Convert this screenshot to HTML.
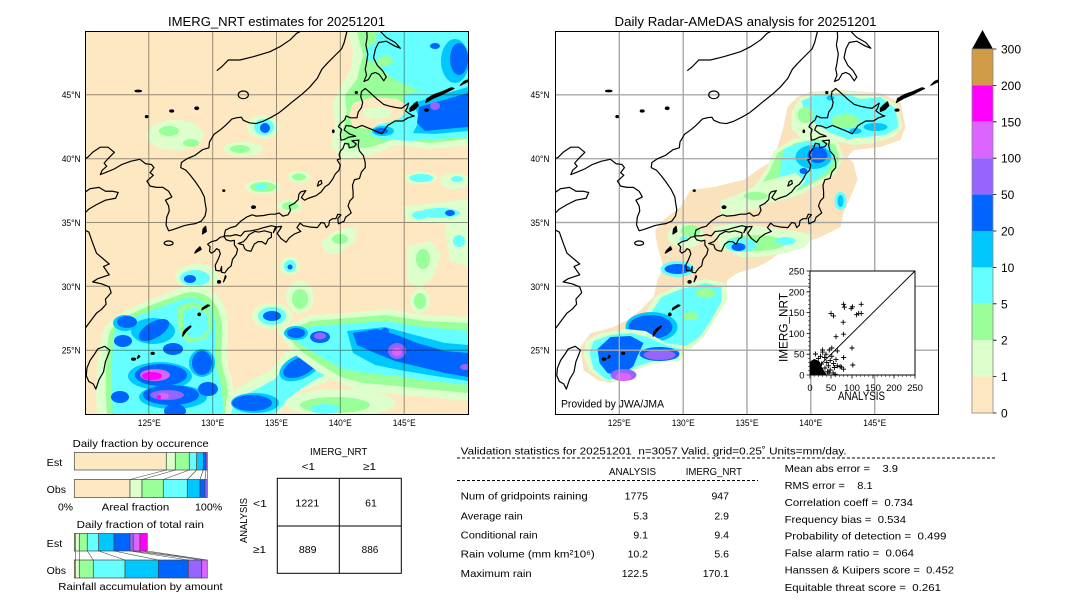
<!DOCTYPE html>
<html><head><meta charset="utf-8"><style>
html,body{margin:0;padding:0;background:#fff}
svg{display:block}
text{font-family:"Liberation Sans","DejaVu Sans",sans-serif;fill:#000}
.a{fill:#DCFFCC}.b{fill:#99FF99}.c{fill:#66FFFF}.d{fill:#00C8FF}.e{fill:#0064FF}.f{fill:#9664FF}.g{fill:#DC64FF}.h{fill:#FF00FF}
.st{font-size:10.5px;white-space:pre}
</style></head><body>
<svg width="1080" height="612" viewBox="0 0 1080 612" xmlns="http://www.w3.org/2000/svg">
<defs>
<g id="coast" fill="none" stroke="#000" stroke-width="1.2" stroke-linejoin="round">
<path vector-effect="non-scaling-stroke" d="M130.9,33.95 L131.0,34.4 131.4,34.6 131.8,34.7 132.2,35.1 132.7,35.45 133.1,35.6 133.4,35.5 134.0,35.55 134.5,35.65 134.9,35.65 135.2,35.75 135.5,35.5 135.9,35.6 136.1,35.95 136.0,36.3 136.4,36.5 136.7,36.8 136.75,37.2 136.9,37.4 137.3,37.5 137.1,37.2 136.95,36.95 137.2,36.75 137.5,36.9 138.1,37.1 138.5,37.4 138.8,37.8 139.1,38.0 139.4,38.4 139.6,38.8 139.9,39.1 140.0,39.5 139.75,39.9 140.0,40.0 139.9,40.3 140.0,40.6 140.2,40.8 140.35,41.2 140.65,41.15 140.7,40.85 141.1,40.95 141.25,41.15 140.9,41.4 141.45,41.45 141.4,41.0 141.5,40.6 141.8,40.25 141.95,39.7 141.95,39.3 141.65,38.95 141.5,38.45 141.1,38.35 140.95,37.9 141.0,37.4 141.0,36.95 140.75,36.7 140.6,36.3 140.85,35.75 140.4,35.4 140.3,35.1 139.85,34.9 139.8,35.3 140.05,35.6 139.8,35.65 139.65,35.3 139.4,35.3 139.15,35.15 139.1,34.8 138.9,34.6 138.75,34.95 138.5,35.0 138.2,34.6 137.6,34.65 137.1,34.75 136.85,34.95 136.6,34.6 136.9,34.3 136.4,34.1 136.0,33.8 135.75,33.45 135.35,33.75 135.05,34.15 135.3,34.5 135.4,34.7 135.0,34.65 134.6,34.75 134.0,34.6 133.5,34.45 133.0,34.35 132.5,34.3 132.2,33.95 131.8,34.05 131.4,33.95 130.9,33.95 Z"/>
<path vector-effect="non-scaling-stroke" d="M140.05,41.45 L140.0,41.9 140.1,42.3 139.85,42.5 139.95,42.7 140.35,43.05 140.45,43.35 140.8,43.2 141.3,43.2 141.4,43.65 141.65,44.0 141.75,44.4 141.6,44.85 141.65,45.25 141.95,45.5 142.3,45.2 142.9,44.65 143.4,44.25 143.9,44.1 144.4,44.0 144.8,43.95 145.15,44.2 145.35,44.35 145.25,44.0 145.1,43.75 145.3,43.6 145.6,43.4 145.8,43.35 145.3,43.2 144.9,42.95 144.3,42.95 143.7,42.6 143.35,42.1 143.25,41.95 142.8,42.15 142.2,42.4 141.7,42.6 141.2,42.4 140.85,42.55 140.45,42.6 140.3,42.25 140.7,41.95 141.1,41.8 141.2,41.75 140.7,41.7 140.3,41.5 140.05,41.45 Z"/>
<path vector-effect="non-scaling-stroke" d="M132.0,33.35 L132.4,33.5 132.65,33.75 132.85,34.05 133.3,34.3 133.6,34.25 134.05,34.35 134.6,34.2 134.6,33.85 134.35,33.7 134.15,33.3 133.85,33.5 133.55,33.5 133.25,33.3 133.0,32.75 132.7,32.8 132.5,32.95 132.4,33.25 132.0,33.35 Z"/>
<path vector-effect="non-scaling-stroke" d="M130.9,33.9 L131.05,33.65 131.4,33.55 131.7,33.6 131.7,33.25 131.95,32.9 131.85,32.5 131.55,32.1 131.45,31.6 131.2,31.4 130.95,31.05 130.7,31.1 130.7,31.55 130.6,31.2 130.25,31.25 130.2,31.65 130.4,32.05 130.6,32.55 130.5,32.85 130.3,32.95 130.15,32.75 129.9,32.6 129.75,32.75 129.8,33.1 129.6,33.3 129.9,33.5 130.3,33.6 130.6,33.85 130.9,33.9 Z"/>
<path vector-effect="non-scaling-stroke" d="M124.3,39.95 L124.75,39.6 125.2,39.55 125.4,39.3 125.1,38.9 125.35,38.7 124.85,38.25 125.1,37.85 125.6,37.75 126.1,37.75 126.55,37.45 126.8,37.0 126.3,36.75 126.55,36.3 126.6,35.9 126.4,35.4 126.35,34.8 126.55,34.35 126.9,34.45 127.35,34.6 127.75,34.75 128.2,34.85 128.6,34.9 129.1,35.1 129.4,35.5 129.5,36.0 129.4,36.6 129.35,37.0 129.05,37.6 128.6,38.25 128.25,38.7 127.9,39.1 127.5,39.3 127.55,39.7 128.0,40.0 128.6,40.25 129.2,40.7 129.7,40.85 129.75,41.3 130.1,41.9 130.65,42.3 131.0,42.6 131.25,42.85 131.5,43.1 131.85,43.2 132.25,43.25 132.4,43.0 132.9,42.8 133.4,42.75 134.0,42.95 134.6,43.25 135.2,43.6 135.7,44.0 136.3,44.5 137.0,45.05 137.6,45.6 138.2,46.3 138.55,47.0 139.0,47.5 139.6,48.1 140.1,48.6 140.3,49.1 140.45,49.7 140.6,50.3"/>
<path vector-effect="non-scaling-stroke" d="M124.3,39.95 L123.6,39.8 122.9,39.55 122.3,39.2 121.7,38.95 121.2,38.75 121.35,39.1 121.7,39.4 121.5,39.65 121.9,40.1 122.3,40.5 121.8,40.9 121.2,40.9 120.6,40.5 120.2,40.1 119.5,39.8"/>
<path vector-effect="non-scaling-stroke" d="M119.0,37.2 L119.9,37.3 120.4,37.65 121.1,37.75 121.6,37.45 122.15,37.45 122.6,37.35 122.4,36.9 121.6,36.75 120.9,36.4 120.3,36.05 119.9,35.65 119.5,35.2 119.3,34.75 120.3,34.25 120.6,33.4 120.9,32.6 121.9,31.75 121.45,31.55 121.9,30.9 121.0,30.6 120.6,30.35 121.3,30.2 121.9,29.95 122.05,29.5 121.6,29.0 121.65,28.6 121.3,28.2 120.9,27.9 120.6,27.5 120.3,27.1 120.0,26.7 119.6,26.3"/>
<path vector-effect="non-scaling-stroke" d="M121.0,25.1 L121.55,25.3 121.95,25.0 121.8,24.6 121.6,24.1 121.45,23.3 121.1,22.7 120.85,21.95 120.65,22.35 120.3,22.55 120.1,23.0 120.15,23.6 120.4,24.2 120.75,24.7 121.0,25.1 Z"/>
<path vector-effect="non-scaling-stroke" d="M142.05,50.3 L142.1,49.5 142.0,48.9 142.15,48.2 142.05,47.5 141.95,47.0 142.05,46.55 141.85,46.05 142.2,46.2 142.45,46.65 142.75,46.75 143.05,46.6 143.4,46.1 143.6,46.4 143.3,46.9 142.9,47.3 142.6,47.9 142.75,48.6 143.0,49.1 143.6,49.2 144.3,48.8 144.7,48.65 144.3,49.1 143.6,49.5 143.2,49.9 143.3,50.3"/>
<path vector-effect="non-scaling-stroke" d="M130.32,46.89 L130.71,47.2 131.23,47.73 132.14,47.73 133.18,47.99 134.49,48.38 135.27,48.77 136.06,49.3 136.58,49.82 136.84,49.95 137.2,50.3"/>
<ellipse vector-effect="non-scaling-stroke" cx="132.4" cy="45.0" rx="0.4" ry="0.3"/>
<ellipse vector-effect="non-scaling-stroke" cx="126.55" cy="33.38" rx="0.35" ry="0.17"/>
<path vector-effect="non-scaling-stroke" d="M138.2,37.85 L138.55,38.05 138.5,38.3 138.3,38.2 Z"/>
<g fill="#000">
<path vector-effect="non-scaling-stroke" d="M145.45,43.7 L145.8,43.85 146.1,44.15 146.0,44.45 145.7,44.2 145.45,43.95 Z"/>
<path vector-effect="non-scaling-stroke" d="M146.7,44.4 L147.3,44.75 147.9,45.0 148.5,45.3 148.9,45.5 148.7,45.55 148.0,45.25 147.3,45.0 146.8,44.7 Z"/>
<path vector-effect="non-scaling-stroke" d="M149.4,45.75 L150.0,46.05 150.5,46.2 150.3,46.3 149.7,46.05 Z"/>
<ellipse vector-effect="non-scaling-stroke" cx="146.75" cy="43.8" rx="0.15" ry="0.08"/>
<ellipse vector-effect="non-scaling-stroke" cx="133.2" cy="36.2" rx="0.15" ry="0.1"/>
<path vector-effect="non-scaling-stroke" d="M129.2,34.1 L129.5,34.3 129.45,34.7 129.25,34.5 Z"/>
<path vector-effect="non-scaling-stroke" d="M128.6,32.6 L129.1,32.9 129.0,33.1 128.7,32.8 Z"/>
<ellipse vector-effect="non-scaling-stroke" cx="130.5" cy="30.35" rx="0.12" ry="0.1"/>
<path vector-effect="non-scaling-stroke" d="M130.85,30.35 L131.05,30.75 131.0,30.85 130.9,30.5 Z"/>
<path vector-effect="non-scaling-stroke" d="M129.15,28.15 L129.75,28.5 129.6,28.55 129.2,28.3 Z"/>
<ellipse vector-effect="non-scaling-stroke" cx="128.95" cy="27.8" rx="0.1" ry="0.1"/>
<path vector-effect="non-scaling-stroke" d="M127.65,26.1 L127.9,26.45 128.3,26.85 128.25,26.9 127.9,26.65 127.7,26.4 Z"/>
<ellipse vector-effect="non-scaling-stroke" cx="125.3" cy="24.75" rx="0.12" ry="0.08"/>
<path vector-effect="non-scaling-stroke" d="M124.1,24.35 L124.3,24.5 124.2,24.6 Z"/>
<ellipse vector-effect="non-scaling-stroke" cx="123.8" cy="24.3" rx="0.15" ry="0.08"/>
<ellipse vector-effect="non-scaling-stroke" cx="130.87" cy="37.5" rx="0.08" ry="0.06"/>
<ellipse vector-effect="non-scaling-stroke" cx="141.25" cy="45.18" rx="0.08" ry="0.08"/>
<ellipse vector-effect="non-scaling-stroke" cx="139.45" cy="42.15" rx="0.06" ry="0.1"/>
<path vector-effect="non-scaling-stroke" d="M134.75,34.2 L135.0,34.6 134.9,34.6 Z"/>
<ellipse vector-effect="non-scaling-stroke" cx="124.17" cy="45.3" rx="0.25" ry="0.06"/>
<ellipse vector-effect="non-scaling-stroke" cx="128.75" cy="43.95" rx="0.15" ry="0.1"/>
<ellipse vector-effect="non-scaling-stroke" cx="124.83" cy="43.29" rx="0.1" ry="0.08"/>
<ellipse vector-effect="non-scaling-stroke" cx="126.79" cy="43.73" rx="0.15" ry="0.08"/>
</g>
</g>
</defs>

<rect width="1080" height="612" fill="#fff"/>

<text x="276.5" y="26" text-anchor="middle" font-size="13" textLength="217" lengthAdjust="spacingAndGlyphs">IMERG_NRT estimates for 20251201</text>
<text x="745.5" y="26" text-anchor="middle" font-size="13" textLength="262" lengthAdjust="spacingAndGlyphs">Daily Radar-AMeDAS analysis for 20251201</text>

<!-- LEFT MAP -->
<svg x="85" y="31" width="383" height="383" viewBox="0 0 383 383" overflow="hidden">
<rect width="383" height="383" fill="#FEE8C1"/>
<path class="a" d="M262,0 L383,0 L383,114 L345,118 L312,114 L285,124 L258,128 L246,114 L250,95 L248,72 L256,55 L266,38 L268,18 Z"/>
<path class="b" d="M272,0 L383,0 L383,108 L345,112 L310,108 L286,116 L264,118 L256,104 L262,84 L260,64 L272,48 L278,24 Z"/>
<path fill="#FEE8C1" d="M268,72 L290,66 L312,68 L322,74 L318,86 L300,92 L284,98 L268,96 L264,84 Z"/>
<ellipse class="a" cx="292" cy="82" rx="14" ry="6"/>
<path class="c" d="M292,0 L383,0 L383,56 L352,60 L330,58 L312,50 L298,40 L290,22 Z"/>
<ellipse class="c" cx="295" cy="22" rx="15" ry="10"/>
<path class="c" d="M318,64 L383,48 L383,106 L352,108 L325,110 L298,108 L284,104 L292,94 L312,90 L322,80 Z"/>
<ellipse class="d" cx="370" cy="30" rx="14" ry="22"/>
<path class="d" d="M328,72 L383,56 L383,100 L350,103 L328,102 L335,88 Z"/>
<ellipse class="e" cx="374" cy="28" rx="9" ry="16"/>
<path class="e" d="M334,76 L383,62 L383,96 L360,98 L340,100 L332,92 Z"/>
<ellipse class="e" cx="350" cy="15" rx="5" ry="3"/>
<ellipse class="d" cx="298" cy="100" rx="11" ry="5"/>
<ellipse class="e" cx="296" cy="100" rx="7" ry="3"/>
<ellipse class="f" cx="350" cy="75" rx="5" ry="4"/>
<ellipse class="b" cx="300" cy="30" rx="8" ry="5"/>
<ellipse class="a" cx="90" cy="104" rx="28" ry="15"/>
<ellipse class="b" cx="84" cy="100" rx="10" ry="5"/>
<ellipse class="b" cx="106" cy="112" rx="8" ry="4"/>
<ellipse class="a" cx="178" cy="96" rx="16" ry="12"/>
<ellipse class="c" cx="179" cy="96" rx="10" ry="8"/>
<ellipse class="e" cx="180" cy="97" rx="5" ry="5"/>
<ellipse class="a" cx="158" cy="118" rx="20" ry="7"/>
<ellipse class="b" cx="155" cy="118" rx="10" ry="4"/>
<ellipse class="a" cx="178" cy="156" rx="18" ry="7"/>
<ellipse class="b" cx="178" cy="156" rx="13" ry="5"/>
<ellipse class="c" cx="176" cy="156" rx="6" ry="3"/>
<ellipse class="a" cx="205" cy="175" rx="12" ry="6"/>
<ellipse class="b" cx="205" cy="175" rx="8" ry="4"/>
<ellipse class="a" cx="214" cy="146" rx="11" ry="6"/>
<ellipse class="b" cx="214" cy="146" rx="7" ry="3.5"/>
<path class="a" d="M236,210 L255,198 L272,196 L270,210 L255,222 L240,222 Z"/>
<ellipse class="b" cx="255" cy="208" rx="8" ry="5"/>
<path class="a" d="M322,215 L345,210 L356,222 L348,245 L335,258 L322,250 Z"/>
<ellipse class="b" cx="338" cy="228" rx="7" ry="10"/>
<path class="a" d="M318,176 L383,168 L383,195 L345,192 L322,190 Z"/>
<ellipse class="c" cx="355" cy="182" rx="20" ry="5"/>
<ellipse class="c" cx="335" cy="184" rx="8" ry="4"/>
<ellipse class="e" cx="365" cy="182" rx="5" ry="3"/>
<ellipse class="a" cx="336" cy="147" rx="16" ry="6"/>
<ellipse class="c" cx="336" cy="147" rx="12" ry="4"/>
<ellipse class="a" cx="370" cy="150" rx="15" ry="8"/>
<ellipse class="c" cx="372" cy="148" rx="6" ry="3"/>
<path class="a" d="M360,195 L383,190 L383,235 L365,230 Z"/>
<ellipse class="c" cx="374" cy="210" rx="6" ry="6"/>
<ellipse class="a" cx="205" cy="235" rx="10" ry="9"/>
<ellipse class="c" cx="205" cy="235" rx="6" ry="6"/>
<ellipse class="e" cx="205" cy="236" rx="2.5" ry="2.5"/>
<ellipse class="a" cx="112" cy="246" rx="22" ry="13"/>
<ellipse class="c" cx="110" cy="247" rx="15" ry="8"/>
<ellipse class="e" cx="105" cy="248" rx="6" ry="4"/>
<ellipse class="a" cx="97" cy="270" rx="9" ry="11"/>
<ellipse class="c" cx="97" cy="270" rx="6" ry="8"/>
<!-- lower-left complex -->
<path class="a" d="M18,300 C30,278 70,268 100,255 C120,250 138,262 142,285 C146,305 138,325 146,345 C150,360 150,375 150,383 L12,383 C10,360 12,320 18,300 Z"/>
<path class="b" d="M25,300 C38,282 72,272 100,262 C118,258 132,268 136,288 C140,305 132,325 140,345 C144,360 144,375 144,383 L22,383 C20,360 20,320 25,300 Z"/>
<path class="c" d="M30,300 C42,286 72,278 98,268 C114,264 126,274 130,290 C133,306 126,326 134,346 C138,360 138,375 138,383 L28,383 C26,360 26,320 30,300 Z"/>
<path class="b" d="M92,276 L108,270 L124,278 L128,296 L120,308 L104,312 L94,300 Z"/>
<path class="c" d="M98,280 L110,276 L122,284 L124,298 L116,306 L104,306 L98,296 Z"/>
<ellipse class="d" cx="68" cy="300" rx="22" ry="13"/>
<ellipse class="d" cx="75" cy="345" rx="32" ry="14"/>
<ellipse class="d" cx="88" cy="366" rx="34" ry="12"/>
<ellipse class="d" cx="117" cy="332" rx="13" ry="14"/>
<ellipse class="d" cx="40" cy="292" rx="12" ry="8"/>
<ellipse class="e" cx="42" cy="291" rx="10" ry="6"/>
<ellipse class="e" cx="69" cy="299" rx="17" ry="8" transform="rotate(-30 69 299)"/>
<ellipse class="e" cx="38" cy="310" rx="9" ry="6"/>
<ellipse class="e" cx="88" cy="318" rx="10" ry="6"/>
<ellipse class="e" cx="76" cy="344" rx="26" ry="11"/>
<ellipse class="e" cx="117" cy="332" rx="10" ry="12"/>
<ellipse class="e" cx="86" cy="364" rx="28" ry="10"/>
<ellipse class="e" cx="35" cy="366" rx="9" ry="6"/>
<ellipse class="e" cx="90" cy="380" rx="11" ry="7"/>
<ellipse class="e" cx="123" cy="358" rx="10" ry="7"/>
<ellipse class="g" cx="70" cy="344" rx="15" ry="6"/>
<ellipse class="h" cx="67" cy="345" rx="10" ry="4"/>
<ellipse class="f" cx="82" cy="364" rx="17" ry="5"/>
<ellipse class="g" cx="78" cy="365" rx="6" ry="3"/>
<ellipse class="h" cx="74" cy="366" rx="2" ry="2"/>
<!-- middle band -->
<path class="a" d="M140,383 L142,365 L165,350 L185,340 L200,322 L225,310 L250,312 L255,335 L240,352 L215,360 L200,375 L195,383 Z"/>
<path class="c" d="M146,383 L150,368 L172,358 L190,348 L204,330 L226,318 L246,320 L248,340 L228,350 L210,362 L196,376 L190,383 Z"/>
<ellipse class="d" cx="170" cy="372" rx="24" ry="10"/>
<ellipse class="e" cx="167" cy="372" rx="20" ry="8"/>
<ellipse class="d" cx="215" cy="336" rx="22" ry="12" transform="rotate(-25 215 336)"/>
<ellipse class="e" cx="215" cy="336" rx="18" ry="9" transform="rotate(-25 215 336)"/>
<!-- right band -->
<path class="a" d="M192,300 L225,284 L262,282 L300,278 L340,284 L383,286 L383,370 L340,366 L300,362 L275,360 L255,352 L232,340 L212,325 Z"/>
<path class="b" d="M198,302 L226,290 L262,287 L300,284 L340,290 L383,292 L383,362 L340,358 L302,354 L278,352 L256,346 L236,334 L216,320 Z"/>
<path class="c" d="M202,304 L228,295 L262,293 L300,290 L338,296 L383,300 L383,354 L345,350 L310,345 L282,342 L258,338 L240,328 L220,316 Z"/>
<path class="d" d="M262,300 L300,296 L330,304 L360,312 L383,314 L383,350 L350,345 L320,340 L290,334 L268,322 Z"/>
<path class="e" d="M268,302 L292,298 L312,304 L332,312 L360,320 L383,322 L383,346 L360,342 L335,336 L310,330 L290,322 L272,314 Z"/>
<ellipse class="d" cx="211" cy="302" rx="12" ry="7"/>
<ellipse class="e" cx="211" cy="302" rx="9" ry="5"/>
<ellipse class="e" cx="235" cy="306" rx="10" ry="6"/>
<ellipse class="f" cx="235" cy="305" rx="6" ry="3.5"/>
<ellipse class="f" cx="312" cy="320" rx="9" ry="8"/>
<ellipse class="g" cx="312" cy="321" rx="5" ry="4"/>
<ellipse class="f" cx="380" cy="336" rx="5" ry="3"/>
<ellipse class="e" cx="300" cy="300" rx="4" ry="3"/>
<ellipse class="a" cx="255" cy="372" rx="55" ry="14"/>
<ellipse class="b" cx="250" cy="374" rx="35" ry="8"/>
<ellipse class="c" cx="240" cy="378" rx="15" ry="5"/>
<ellipse class="a" cx="215" cy="266" rx="14" ry="16"/>
<ellipse class="b" cx="215" cy="268" rx="8" ry="10"/>
<ellipse class="a" cx="335" cy="270" rx="10" ry="12"/>
<ellipse class="b" cx="335" cy="270" rx="6" ry="8"/>
<ellipse class="a" cx="187" cy="285" rx="20" ry="13"/>
<ellipse class="c" cx="187" cy="285" rx="14" ry="9"/>
<ellipse class="e" cx="187" cy="285" rx="9" ry="5"/>
<g stroke="#000" stroke-opacity="0.4" stroke-width="1">
<path d="M63.8,0V383M127.7,0V383M191.5,0V383M255.3,0V383M319.2,0V383M0,63.8H383M0,127.7H383M0,191.5H383M0,255.3H383M0,319.2H383"/>
</g>
<use href="#coast" transform="matrix(12.767 0 0 -12.767 -1532.04 638.35)"/>
</svg>
<rect x="85.5" y="31.5" width="383" height="383" fill="none" stroke="#000" stroke-width="1"/>

<!-- RIGHT MAP -->
<svg x="555.5" y="31" width="383" height="383" viewBox="0 0 383 383" overflow="hidden">
<rect width="383" height="383" fill="#fff"/>
<path fill="#FAE2BC" d="M100,199 L108,189 L125,176 L135,159 L158,156 L188,149 L202,139 L218,129 L222,116 L228,96 L232,76 L242,66 L255,61 L282,59 L325,62 L345,72 L350,96 L345,109 L325,116 L298,119 L292,126 L298,132 L302,149 L295,166 L288,182 L285,196 L265,206 L248,212 L228,219 L215,229 L202,236 L182,242 L172,249 L170,262 L158,269 L148,276 L142,282 L138,309 L128,316 L122,326 L102,332 L82,336 L65,349 L55,352 L42,349 L28,339 L25,316 L35,302 L48,299 L58,296 L72,289 L85,279 L98,266 L102,249 L108,236 L103,219 L100,206 Z"/>
<path class="a" d="M236,80 L244,68 L258,62 L285,60 L322,63 L342,74 L347,96 L338,106 L318,112 L298,114 L280,110 L262,104 L246,108 L236,98 Z"/>
<path class="c" d="M246,70 L262,63 L288,62 L305,68 L325,66 L340,78 L343,96 L330,104 L310,106 L292,108 L275,102 L262,94 L250,86 Z"/>
<ellipse class="b" cx="290" cy="90" rx="14" ry="7"/>
<ellipse class="b" cx="250" cy="84" rx="8" ry="8"/>
<ellipse class="d" cx="320" cy="96" rx="12" ry="4"/>
<ellipse class="d" cx="300" cy="100" rx="6" ry="3"/>
<ellipse class="d" cx="275" cy="67" rx="4" ry="2.5"/>
<path class="a" d="M218,120 L238,108 L262,104 L282,110 L288,126 L280,142 L266,152 L248,162 L232,168 L212,172 L196,180 L186,172 L198,156 L210,140 Z"/>
<path class="b" d="M222,122 L240,112 L262,108 L280,114 L284,128 L276,142 L262,150 L246,158 L230,164 L214,168 L200,174 L194,168 L204,156 L214,140 Z"/>
<path class="c" d="M228,118 L250,110 L272,112 L280,126 L272,140 L258,150 L242,158 L230,158 L224,146 L226,132 Z"/>
<ellipse class="d" cx="258" cy="126" rx="18" ry="12"/>
<ellipse class="e" cx="262" cy="124" rx="10" ry="8"/>
<ellipse class="e" cx="248" cy="140" rx="4" ry="3"/>
<path class="a" d="M165,170 L190,160 L210,150 L240,142 L250,150 L235,165 L210,172 L185,182 L165,186 Z"/>
<ellipse class="b" cx="200" cy="165" rx="12" ry="4"/>
<path class="a" d="M158,196 L180,192 L210,196 L240,200 L258,204 L250,216 L230,222 L205,226 L185,226 L165,216 Z"/>
<ellipse class="b" cx="200" cy="212" rx="30" ry="8"/>
<ellipse class="c" cx="185" cy="214" rx="16" ry="7"/>
<ellipse class="c" cx="230" cy="210" rx="10" ry="4"/>
<ellipse class="e" cx="183" cy="216" rx="7" ry="4"/>
<ellipse class="a" cx="130" cy="205" rx="18" ry="12"/>
<ellipse class="b" cx="135" cy="200" rx="10" ry="6"/>
<ellipse class="c" cx="128" cy="208" rx="4" ry="3"/>
<ellipse class="c" cx="285" cy="170" rx="6" ry="9"/>
<ellipse class="d" cx="285" cy="170" rx="3" ry="6"/>
<ellipse class="c" cx="122" cy="238" rx="17" ry="8"/>
<ellipse class="e" cx="122" cy="238" rx="13" ry="5"/>
<path class="a" d="M88,285 L100,265 L122,255 L150,248 L170,252 L172,268 L160,288 L148,306 L135,318 L110,322 L90,310 Z"/>
<path class="c" d="M94,284 L106,266 L126,258 L150,252 L166,256 L166,270 L155,290 L144,306 L130,315 L110,318 L94,306 Z"/>
<ellipse class="b" cx="150" cy="262" rx="10" ry="5"/>
<ellipse class="b" cx="135" cy="285" rx="8" ry="4"/>
<ellipse class="d" cx="96" cy="296" rx="26" ry="15"/>
<ellipse class="e" cx="95" cy="296" rx="22" ry="12"/>
<path class="a" d="M28,325 L30,310 L45,302 L70,298 L90,300 L110,312 L130,315 L125,330 L100,332 L82,338 L66,350 L50,350 L34,340 Z"/>
<path class="c" d="M34,322 L38,310 L55,304 L75,302 L92,306 L110,314 L125,318 L122,328 L98,330 L80,336 L64,348 L50,348 L38,338 Z"/>
<path class="e" d="M42,318 L55,306 L75,305 L88,312 L82,325 L78,335 L65,345 L52,342 L44,332 Z"/>
<ellipse class="e" cx="104" cy="323" rx="20" ry="7"/>
<ellipse class="f" cx="104" cy="324" rx="16" ry="5"/>
<ellipse class="f" cx="68" cy="344" rx="13" ry="6"/>
<ellipse class="g" cx="68" cy="346" rx="8" ry="4"/>
<g stroke="#a8a8a8" stroke-width="1.4">
<path d="M63.8,0V383M127.7,0V383M191.5,0V383M255.3,0V383M319.2,0V383M0,63.8H383M0,127.7H383M0,191.5H383M0,255.3H383M0,319.2H383"/>
</g>
<use href="#coast" transform="matrix(12.767 0 0 -12.767 -1532.04 638.35)"/>
</svg>
<rect x="555.5" y="31.5" width="383" height="383" fill="none" stroke="#000" stroke-width="1"/>
<text x="561" y="407.5" font-size="11" textLength="103" lengthAdjust="spacingAndGlyphs">Provided by JWA/JMA</text>

<g font-size="9">
<text x="80.7" y="98" text-anchor="end" textLength="19" lengthAdjust="spacingAndGlyphs">45°N</text>
<text x="80.7" y="162" text-anchor="end" textLength="19" lengthAdjust="spacingAndGlyphs">40°N</text>
<text x="80.7" y="226" text-anchor="end" textLength="19" lengthAdjust="spacingAndGlyphs">35°N</text>
<text x="80.7" y="290" text-anchor="end" textLength="19" lengthAdjust="spacingAndGlyphs">30°N</text>
<text x="80.7" y="353.5" text-anchor="end" textLength="19" lengthAdjust="spacingAndGlyphs">25°N</text>
<text x="549.5" y="98" text-anchor="end" textLength="19" lengthAdjust="spacingAndGlyphs">45°N</text>
<text x="549.5" y="162" text-anchor="end" textLength="19" lengthAdjust="spacingAndGlyphs">40°N</text>
<text x="549.5" y="226" text-anchor="end" textLength="19" lengthAdjust="spacingAndGlyphs">35°N</text>
<text x="549.5" y="290" text-anchor="end" textLength="19" lengthAdjust="spacingAndGlyphs">30°N</text>
<text x="549.5" y="353.5" text-anchor="end" textLength="19" lengthAdjust="spacingAndGlyphs">25°N</text>
<text x="149.3" y="426" text-anchor="middle" textLength="23" lengthAdjust="spacingAndGlyphs">125°E</text>
<text x="212.7" y="426" text-anchor="middle" textLength="23" lengthAdjust="spacingAndGlyphs">130°E</text>
<text x="276.5" y="426" text-anchor="middle" textLength="23" lengthAdjust="spacingAndGlyphs">135°E</text>
<text x="340.3" y="426" text-anchor="middle" textLength="23" lengthAdjust="spacingAndGlyphs">140°E</text>
<text x="404.2" y="426" text-anchor="middle" textLength="23" lengthAdjust="spacingAndGlyphs">145°E</text>
<text x="619.3" y="426" text-anchor="middle" textLength="23" lengthAdjust="spacingAndGlyphs">125°E</text>
<text x="683.2" y="426" text-anchor="middle" textLength="23" lengthAdjust="spacingAndGlyphs">130°E</text>
<text x="747" y="426" text-anchor="middle" textLength="23" lengthAdjust="spacingAndGlyphs">135°E</text>
<text x="810.8" y="426" text-anchor="middle" textLength="23" lengthAdjust="spacingAndGlyphs">140°E</text>
<text x="874.7" y="426" text-anchor="middle" textLength="23" lengthAdjust="spacingAndGlyphs">145°E</text>
</g>

<!-- scatter inset -->
<rect x="810" y="271" width="105" height="104" fill="#fff" stroke="#000" stroke-width="1"/>
<line x1="810" y1="375" x2="915" y2="271" stroke="#000" stroke-width="0.9"/>
<path stroke="#000" stroke-width="0.8" fill="none" d="M810,375v3.5M831,375v3.5M852,375v3.5M873,375v3.5M894,375v3.5M915,375v3.5M810,375h-3.5M810,354.2h-3.5M810,333.4h-3.5M810,312.6h-3.5M810,291.8h-3.5M810,271h-3.5"/>
<path stroke="#000" stroke-width="0.5" fill="none" d="M814.2,375v2M818.4,375v2M822.6,375v2M826.8,375v2M835.2,375v2M839.4,375v2M843.6,375v2M847.8,375v2M856.2,375v2M860.4,375v2M864.6,375v2M868.8,375v2M877.2,375v2M881.4,375v2M885.6,375v2M889.8,375v2M898.2,375v2M902.4,375v2M906.6,375v2M910.8,375v2M810,370.8h-2M810,366.7h-2M810,362.5h-2M810,358.4h-2M810,350h-2M810,345.9h-2M810,341.7h-2M810,337.6h-2M810,329.2h-2M810,325.1h-2M810,320.9h-2M810,316.8h-2M810,308.4h-2M810,304.3h-2M810,300.1h-2M810,296h-2M810,287.6h-2M810,283.5h-2M810,279.3h-2M810,275.2h-2"/>
<g font-size="9.5">
<text x="810" y="391" text-anchor="middle">0</text>
<text x="831" y="391" text-anchor="middle">50</text>
<text x="852" y="391" text-anchor="middle">100</text>
<text x="873" y="391" text-anchor="middle">150</text>
<text x="894" y="391" text-anchor="middle">200</text>
<text x="915" y="391" text-anchor="middle">250</text>
<text x="804.5" y="378.5" text-anchor="end">0</text>
<text x="804.5" y="357.7" text-anchor="end">50</text>
<text x="804.5" y="336.9" text-anchor="end">100</text>
<text x="804.5" y="316.1" text-anchor="end">150</text>
<text x="804.5" y="295.3" text-anchor="end">200</text>
<text x="804.5" y="274.5" text-anchor="end">250</text>
</g>
<text x="838" y="400" font-size="11.5" textLength="47" lengthAdjust="spacingAndGlyphs">ANALYSIS</text>
<text transform="translate(787.5,327.5) rotate(-90)" text-anchor="middle" font-size="12" textLength="69" lengthAdjust="spacingAndGlyphs">IMERG_NRT</text>
<path fill="#000" d="M810,375 L827,375 L825,372 L823,369 L821,366 L820,362 L817,360 L814,359 L811,361 L810,363 Z"/>
<path stroke="#000" stroke-width="0.9" fill="none" d="M828.5,313.4h5M831,310.9v5M831,315.9h5M833.5,313.4v5M841.1,304.3h5M843.6,301.8v5M841.9,307.2h5M844.4,304.7v5M848.7,308.4h5M851.2,305.9v5M849.9,306.8h5M852.4,304.3v5M858.7,304.3h5M861.2,301.8v5M854.1,314.7h5M856.6,312.2v5M856.2,313.4h5M858.7,310.9v5M858.7,313.4h5M861.2,310.9v5M840.7,322.2h5M843.2,319.7v5M841.1,334.2h5M843.6,331.7v5M833.5,336.7h5M836,334.2v5M829.3,348h5M831.8,345.5v5M849.5,348h5M852,345.5v5M826.8,350h5M829.3,347.5v5M834.8,350.9h5M837.3,348.4v5M833.5,359.6h5M836,357.1v5M841.1,357.5h5M843.6,355v5M829.3,356.3h5M831.8,353.8v5M834.8,365.8h5M837.3,363.3v5M837.7,366.7h5M840.2,364.2v5M831.9,367.5h5M834.4,365v5M841.1,369.2h5M843.6,366.7v5M850.3,365h5M852.8,362.5v5M839,367.1h5M841.5,364.6v5M827.7,360.4h5M830.2,357.9v5M831,363.4h5M833.5,360.9v5M826,365.8h5M828.5,363.3v5M823.5,354.2h5M826,351.7v5M820.1,352.1h5M822.6,349.6v5M822.2,357.5h5M824.7,355v5M825.1,371.7h5M827.6,369.2v5M830.6,372.9h5M833.1,370.4v5M832.7,374.2h5M835.2,371.7v5M827.7,370h5M830.2,367.5v5M824.3,362.5h5M826.8,360v5M818,356.3h5M820.5,353.8v5M815.9,358.4h5M818.4,355.9v5M813,354h5M815.5,351.5v5M820,350h5M822.5,347.5v5M822.5,368h5M825,365.5v5M819,364h5M821.5,361.5v5M826.5,373h5M829,370.5v5"/>

<!-- colorbar -->
<rect x="972" y="49" width="21" height="36.4" fill="#D29B48"/>
<rect x="972" y="85.4" width="21" height="36.4" fill="#FF00FF"/>
<rect x="972" y="121.8" width="21" height="36.4" fill="#DC64FF"/>
<rect x="972" y="158.2" width="21" height="36.4" fill="#9664FF"/>
<rect x="972" y="194.6" width="21" height="36.4" fill="#0064FF"/>
<rect x="972" y="231" width="21" height="36.4" fill="#00C8FF"/>
<rect x="972" y="267.4" width="21" height="36.4" fill="#66FFFF"/>
<rect x="972" y="303.8" width="21" height="36.4" fill="#99FF99"/>
<rect x="972" y="340.2" width="21" height="36.4" fill="#DCFFCC"/>
<rect x="972" y="376.6" width="21" height="36.4" fill="#FEE8C1"/>
<path d="M972,49 L993,49 L982.5,30 Z" fill="#000"/>
<rect x="972" y="49" width="21" height="364" fill="none" stroke="#888" stroke-width="0.8"/>
<path stroke="#000" stroke-width="0.8" d="M993,49h3.5M993,85.4h3.5M993,121.8h3.5M993,158.2h3.5M993,194.6h3.5M993,231h3.5M993,267.4h3.5M993,303.8h3.5M993,340.2h3.5M993,376.6h3.5M993,413h3.5"/>
<g font-size="12">
<text x="1001" y="53.5">300</text>
<text x="1001" y="89.9">200</text>
<text x="1001" y="126.3">150</text>
<text x="1001" y="162.7">100</text>
<text x="1001" y="199.1">50</text>
<text x="1001" y="235.5">20</text>
<text x="1001" y="271.9">10</text>
<text x="1001" y="308.3">5</text>
<text x="1001" y="344.7">2</text>
<text x="1001" y="381.1">1</text>
<text x="1001" y="417.5">0</text>
</g>

<!-- occurrence bars -->
<text x="72.7" y="447" font-size="10.5" textLength="136" lengthAdjust="spacingAndGlyphs">Daily fraction by occurence</text>
<g stroke="#444" stroke-width="0.7">
<rect x="74.3" y="452.5" width="92" height="17.5" fill="#FEE8C1"/>
<rect x="166.3" y="452.5" width="9" height="17.5" fill="#DCFFCC"/>
<rect x="175.3" y="452.5" width="14" height="17.5" fill="#99FF99"/>
<rect x="189.3" y="452.5" width="7.4" height="17.5" fill="#66FFFF"/>
<rect x="196.7" y="452.5" width="6.6" height="17.5" fill="#00C8FF"/>
<rect x="203.3" y="452.5" width="2.7" height="17.5" fill="#0064FF"/>
<rect x="206" y="452.5" width="1.3" height="17.5" fill="#9664FF"/>
<rect x="74.3" y="479.5" width="55.7" height="18" fill="#FEE8C1"/>
<rect x="130" y="479.5" width="12" height="18" fill="#DCFFCC"/>
<rect x="142" y="479.5" width="21.3" height="18" fill="#99FF99"/>
<rect x="163.3" y="479.5" width="24" height="18" fill="#66FFFF"/>
<rect x="187.3" y="479.5" width="12.7" height="18" fill="#00C8FF"/>
<rect x="200" y="479.5" width="5" height="18" fill="#0064FF"/>
<rect x="205" y="479.5" width="2.3" height="18" fill="#9664FF"/>
<path fill="none" stroke-width="0.6" d="M166.3,470L130,479.5M175.3,470L142,479.5M189.3,470L163.3,479.5M196.7,470L187.3,479.5M203.3,470L200,479.5M206,470L205,479.5M207.3,470L207.3,479.5"/>
</g>
<text x="46.7" y="466" font-size="10.5" textLength="15.6" lengthAdjust="spacingAndGlyphs">Est</text>
<text x="46.7" y="493" font-size="10.5" textLength="19.3" lengthAdjust="spacingAndGlyphs">Obs</text>
<text x="58" y="510.5" font-size="10.5" textLength="15" lengthAdjust="spacingAndGlyphs">0%</text>
<text x="101.7" y="510.5" font-size="10.5" textLength="67.6" lengthAdjust="spacingAndGlyphs">Areal fraction</text>
<text x="195" y="510.5" font-size="10.5" textLength="27.3" lengthAdjust="spacingAndGlyphs">100%</text>

<!-- rain fraction bars -->
<text x="76.7" y="528" font-size="10.5" textLength="127.3" lengthAdjust="spacingAndGlyphs">Daily fraction of total rain</text>
<g stroke="#444" stroke-width="0.7">
<rect x="74.3" y="533.5" width="1" height="17.5" fill="#FEE8C1"/>
<rect x="75.3" y="533.5" width="4" height="17.5" fill="#DCFFCC"/>
<rect x="79.3" y="533.5" width="8" height="17.5" fill="#99FF99"/>
<rect x="87.3" y="533.5" width="11.4" height="17.5" fill="#66FFFF"/>
<rect x="98.7" y="533.5" width="15.3" height="17.5" fill="#00C8FF"/>
<rect x="114" y="533.5" width="16" height="17.5" fill="#0064FF"/>
<rect x="130" y="533.5" width="3.3" height="17.5" fill="#9664FF"/>
<rect x="133.3" y="533.5" width="6.7" height="17.5" fill="#DC64FF"/>
<rect x="140" y="533.5" width="7.3" height="17.5" fill="#FF00FF"/>
<rect x="74.3" y="560" width="1" height="18" fill="#FEE8C1"/>
<rect x="75.3" y="560" width="4" height="18" fill="#DCFFCC"/>
<rect x="79.3" y="560" width="14" height="18" fill="#99FF99"/>
<rect x="93.3" y="560" width="31.7" height="18" fill="#66FFFF"/>
<rect x="125" y="560" width="33.3" height="18" fill="#00C8FF"/>
<rect x="158.3" y="560" width="30" height="18" fill="#0064FF"/>
<rect x="188.3" y="560" width="13.4" height="18" fill="#9664FF"/>
<rect x="201.7" y="560" width="5.6" height="18" fill="#DC64FF"/>
<path fill="none" stroke-width="0.6" d="M75.3,551L75.3,560M79.3,551L79.3,560M87.3,551L93.3,560M98.7,551L125,560M114,551L158.3,560M130,551L188.3,560M133.3,551L201.7,560M140,551L207.3,560M147.3,551L207.3,560"/>
</g>
<text x="46.7" y="547" font-size="10.5" textLength="15.6" lengthAdjust="spacingAndGlyphs">Est</text>
<text x="46.7" y="574" font-size="10.5" textLength="19.3" lengthAdjust="spacingAndGlyphs">Obs</text>
<text x="58.3" y="590" font-size="10.5" textLength="164.4" lengthAdjust="spacingAndGlyphs">Rainfall accumulation by amount</text>

<!-- contingency table -->
<text x="310" y="455" font-size="10.5" textLength="57.3" lengthAdjust="spacingAndGlyphs">IMERG_NRT</text>
<text x="301.7" y="470" font-size="10.5" textLength="13.3" lengthAdjust="spacingAndGlyphs">&lt;1</text>
<text x="363" y="470" font-size="10.5" textLength="13" lengthAdjust="spacingAndGlyphs">≥1</text>
<text transform="translate(247,520.5) rotate(-90)" text-anchor="middle" font-size="10.5" textLength="45" lengthAdjust="spacingAndGlyphs">ANALYSIS</text>
<text x="253" y="507" font-size="10.5" textLength="14" lengthAdjust="spacingAndGlyphs">&lt;1</text>
<text x="253" y="553" font-size="10.5" textLength="13" lengthAdjust="spacingAndGlyphs">≥1</text>
<rect x="277.3" y="478.3" width="124" height="95" fill="none" stroke="#000" stroke-width="1"/>
<path stroke="#000" stroke-width="1" d="M339.3,478.3V573.3M277.3,526H401.3"/>
<text x="307.3" y="506.5" font-size="10.5" text-anchor="middle" textLength="24" lengthAdjust="spacingAndGlyphs">1221</text>
<text x="371" y="506.5" font-size="10.5" text-anchor="middle" textLength="11.7" lengthAdjust="spacingAndGlyphs">61</text>
<text x="307.7" y="553" font-size="10.5" text-anchor="middle" textLength="17.7" lengthAdjust="spacingAndGlyphs">889</text>
<text x="370" y="553" font-size="10.5" text-anchor="middle" textLength="16.7" lengthAdjust="spacingAndGlyphs">886</text>

<!-- stats -->
<text class="st" x="460.7" y="454.5" textLength="386" lengthAdjust="spacingAndGlyphs">Validation statistics for 20251201  n=3057 Valid. grid=0.25˚ Units=mm/day.</text>
<line x1="457" y1="458" x2="996" y2="458" stroke="#000" stroke-width="1" stroke-dasharray="3,2"/>
<text class="st" x="609" y="475" textLength="47" lengthAdjust="spacingAndGlyphs">ANALYSIS</text>
<text class="st" x="685.7" y="475" textLength="56.3" lengthAdjust="spacingAndGlyphs">IMERG_NRT</text>
<line x1="457" y1="480.5" x2="758" y2="480.5" stroke="#000" stroke-width="1" stroke-dasharray="3,2"/>
<text class="st" x="460.7" y="499.5" textLength="127" lengthAdjust="spacingAndGlyphs">Num of gridpoints raining</text>
<text class="st" x="460.7" y="519.5" textLength="62" lengthAdjust="spacingAndGlyphs">Average rain</text>
<text class="st" x="460.7" y="538.5" textLength="77" lengthAdjust="spacingAndGlyphs">Conditional rain</text>
<text class="st" x="460.7" y="557.5" textLength="134" lengthAdjust="spacingAndGlyphs">Rain volume (mm km²10⁶)</text>
<text class="st" x="460.7" y="577" textLength="71" lengthAdjust="spacingAndGlyphs">Maximum rain</text>
<g class="st" text-anchor="end">
<text x="648" y="499.5">1775</text>
<text x="648" y="519.5">5.3</text>
<text x="648" y="538.5">9.1</text>
<text x="648" y="557.5">10.2</text>
<text x="648" y="577">122.5</text>
<text x="729" y="499.5">947</text>
<text x="729" y="519.5">2.9</text>
<text x="729" y="538.5">9.4</text>
<text x="729" y="557.5">5.6</text>
<text x="729" y="577">170.1</text>
</g>
<text class="st" x="784.6" y="472" textLength="113.4" lengthAdjust="spacingAndGlyphs">Mean abs error =    3.9</text>
<text class="st" x="784.6" y="489.2" textLength="88" lengthAdjust="spacingAndGlyphs">RMS error =    8.1</text>
<text class="st" x="784.6" y="506" textLength="128.4" lengthAdjust="spacingAndGlyphs">Correlation coeff =  0.734</text>
<text class="st" x="784.6" y="523" textLength="121.4" lengthAdjust="spacingAndGlyphs">Frequency bias =  0.534</text>
<text class="st" x="784.6" y="539.7" textLength="161.8" lengthAdjust="spacingAndGlyphs">Probability of detection =  0.499</text>
<text class="st" x="784.6" y="556.7" textLength="129.4" lengthAdjust="spacingAndGlyphs">False alarm ratio =  0.064</text>
<text class="st" x="784.6" y="573.7" textLength="169.4" lengthAdjust="spacingAndGlyphs">Hanssen &amp; Kuipers score =  0.452</text>
<text class="st" x="784.6" y="591" textLength="156.4" lengthAdjust="spacingAndGlyphs">Equitable threat score =  0.261</text>
</svg>
</body></html>
